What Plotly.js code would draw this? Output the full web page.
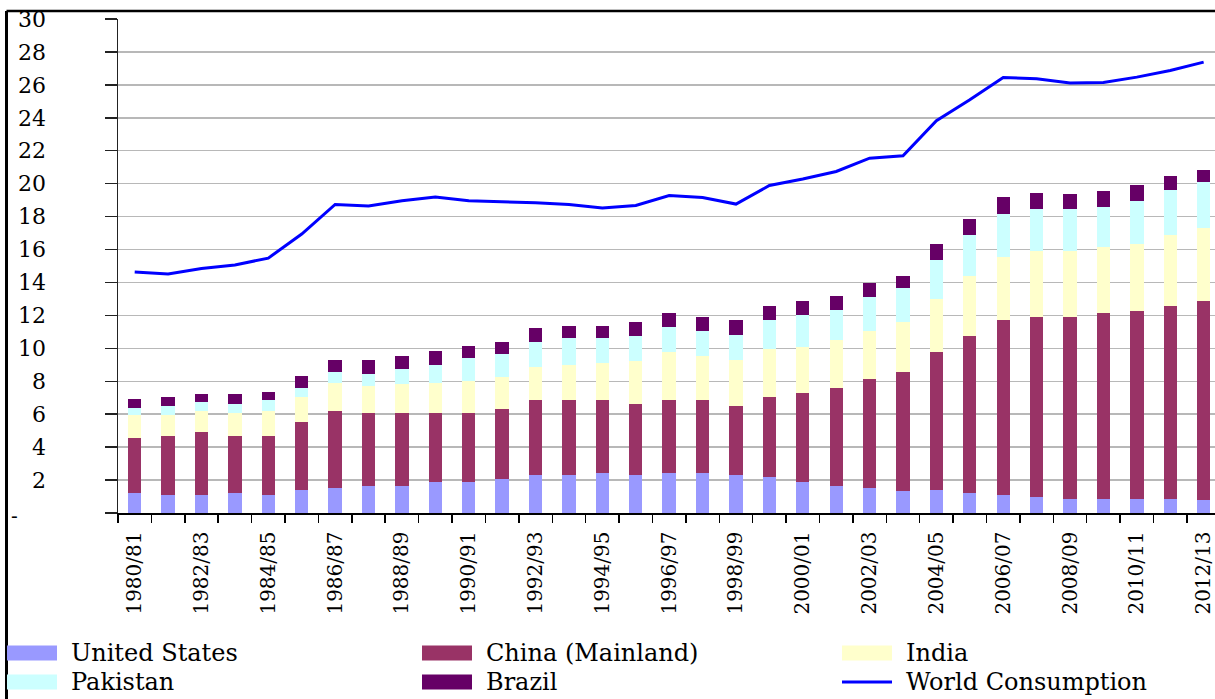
<!DOCTYPE html>
<html>
<head>
<meta charset="utf-8">
<script src="https://cdn.plot.ly/plotly-3.0.1.min.js"></script>
<style>body{margin:0;overflow:hidden;background:#fff}</style>
</head>
<body>
<div id="chart" style="width:1215px;height:699px"></div>
<script>
const categories = ['1980/81','1981/82','1982/83','1983/84','1984/85','1985/86','1986/87','1987/88','1988/89','1989/90','1990/91','1991/92','1992/93','1993/94','1994/95','1995/96','1996/97','1997/98','1998/99','1999/00','2000/01','2001/02','2002/03','2003/04','2004/05','2005/06','2006/07','2007/08','2008/09','2009/10','2010/11','2011/12','2012/13'];
const tickLabels = ['1980/81','','1982/83','','1984/85','','1986/87','','1988/89','','1990/91','','1992/93','','1994/95','','1996/97','','1998/99','','2000/01','','2002/03','','2004/05','','2006/07','','2008/09','','2010/11','','2012/13'];
const unitedStates = [1.21,1.09,1.09,1.21,1.09,1.41,1.52,1.64,1.64,1.86,1.86,2.06,2.28,2.28,2.41,2.28,2.41,2.41,2.28,2.19,1.86,1.64,1.54,1.31,1.41,1.21,1.09,0.99,0.87,0.87,0.87,0.87,0.77];
const china = [3.34,3.59,3.81,3.47,3.59,4.12,4.65,4.43,4.43,4.21,4.21,4.25,4.56,4.56,4.43,4.34,4.43,4.43,4.24,4.87,5.40,5.95,6.59,7.25,8.36,9.51,10.61,10.93,11.05,11.27,11.37,11.70,12.12];
const india = [1.42,1.29,1.27,1.39,1.49,1.51,1.74,1.62,1.74,1.84,1.94,1.92,2.04,2.14,2.27,2.59,2.91,2.69,2.79,2.92,2.82,2.93,2.92,3.04,3.22,3.67,3.86,3.99,3.99,3.99,4.09,4.31,4.41];
const pakistan = [0.41,0.53,0.55,0.55,0.67,0.55,0.63,0.75,0.95,1.08,1.40,1.42,1.50,1.64,1.51,1.51,1.52,1.52,1.52,1.72,1.94,1.82,2.04,2.04,2.35,2.47,2.59,2.57,2.57,2.47,2.59,2.71,2.82];
const brazil = [0.56,0.54,0.52,0.62,0.51,0.75,0.75,0.85,0.75,0.85,0.75,0.73,0.85,0.73,0.73,0.85,0.85,0.87,0.87,0.85,0.85,0.85,0.87,0.73,0.97,0.97,1.07,0.97,0.87,0.95,0.99,0.85,0.74];
const worldConsumption = [14.63,14.51,14.85,15.06,15.48,16.94,18.74,18.64,18.96,19.19,18.96,18.92,18.84,18.74,18.52,18.68,19.28,19.16,18.76,19.89,20.28,20.74,21.55,21.69,23.82,25.09,26.45,26.37,26.11,26.15,26.47,26.87,27.38];
const seriesNames = ['United States','China (Mainland)','India','Pakistan','Brazil','World Consumption'];
const yTickVals = [0,2,4,6,8,10,12,14,16,18,20,22,24,26,28,30];
const yTickText = ['','2','4','6','8','10','12','14','16','18','20','22','24','26','28','30'];

const colors = ['#9999FF','#993366','#FFFFCC','#CCFFFF','#660066','#0000FF'];
const barSeries = [unitedStates, china, india, pakistan, brazil];

const W = 1215, H = 699, L = 118, T = 19, B = 186;
const plotW = W - L, plotH = H - T - B;
const fx = x => (x - L) / plotW;
const fy = y => (H - B - y) / plotH;
const FONT = 'DejaVu Serif, Liberation Serif, serif';

const traces = barSeries.map((vals, i) => ({
  type: 'bar', x: categories, y: vals, name: seriesNames[i],
  marker: {color: colors[i], line: {width: 0}}
}));
traces.push({
  type: 'scatter', mode: 'lines', x: categories, y: worldConsumption, name: seriesNames[5],
  line: {color: colors[5], width: 3}
});

const shapes = [
  {type:'line', xref:'paper', yref:'paper', x0:fx(6.5), x1:fx(1220), y0:fy(11), y1:fy(11), line:{color:'#000', width:2.5}},
  {type:'line', xref:'paper', yref:'paper', x0:fx(6.5), x1:fx(6.5), y0:fy(11), y1:fy(705), line:{color:'#000', width:3}}
];
const annotations = [
  {xref:'paper', yref:'paper', x:fx(9), y:fy(516), xanchor:'left', yanchor:'middle', text:'-', showarrow:false, font:{family:FONT, size:20, color:'#000'}}
];
const legendCols = [7, 422, 842];
const legendRows = [653, 682];
seriesNames.forEach((nm, i) => {
  const cx = legendCols[i % 3], cy = legendRows[Math.floor(i / 3)];
  if (i < 5) {
    shapes.push({type:'rect', xref:'paper', yref:'paper', x0:fx(cx), x1:fx(cx+50), y0:fy(cy+7.5), y1:fy(cy-7.5), fillcolor:colors[i], line:{width:0}});
  } else {
    shapes.push({type:'line', xref:'paper', yref:'paper', x0:fx(cx), x1:fx(cx+50), y0:fy(cy), y1:fy(cy), line:{color:colors[i], width:3}});
  }
  annotations.push({xref:'paper', yref:'paper', x:fx(cx+62), y:fy(cy), xanchor:'left', yanchor:'middle', text:nm, showarrow:false, font:{family:FONT, size:24, color:'#000'}});
});

const layout = {
  width: W, height: H,
  margin: {l:L, r:0, t:T, b:B, pad:0},
  paper_bgcolor: '#fff', plot_bgcolor: '#fff',
  barmode: 'stack', bargap: 0.6,
  showlegend: false,
  font: {family: FONT, color: '#000'},
  xaxis: {
    type: 'category', range: [-0.5, 32.34],
    tickmode: 'array', tickvals: categories, ticktext: tickLabels,
    tickson: 'boundaries', ticks: 'outside', ticklen: 8, tickwidth: 1.5, tickcolor: '#000',
    showline: true, linecolor: '#000', linewidth: 1.5,
    tickangle: -90, tickfont: {family: FONT, size: 20, color: '#000'},
    ticklabelstandoff: 9,
    showgrid: false, zeroline: false, fixedrange: true
  },
  yaxis: {
    range: [0, 30], tickmode: 'array', tickvals: yTickVals, ticktext: yTickText,
    ticks: 'outside', ticklen: 12, tickwidth: 1.5, tickcolor: '#222',
    showline: true, linecolor: '#222', linewidth: 1.5,
    showgrid: true, gridcolor: '#b8b8b8', gridwidth: 1.5,
    tickfont: {family: FONT, size: 22, color: '#000'},
    ticklabelstandoff: 54, zeroline: false, fixedrange: true
  },
  shapes: shapes,
  annotations: annotations
};

Plotly.newPlot('chart', traces, layout, {displayModeBar: false, staticPlot: true});
</script>
</body>
</html>
